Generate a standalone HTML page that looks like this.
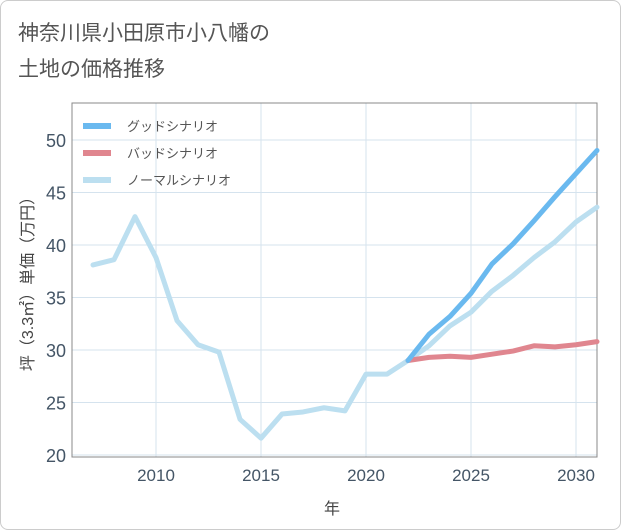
<!DOCTYPE html>
<html><head><meta charset="utf-8"><style>
body{margin:0;background:#fff;font-family:"Liberation Sans","Noto Sans CJK JP",sans-serif}
#wrap{position:relative;width:619px;height:528px;border:1px solid #ccc;border-radius:8px;overflow:hidden}
</style></head><body>
<div id="wrap">
<svg id="c" width="621" height="530" style="position:absolute;left:-1px;top:-1px">
<text x="18" y="40" font-size="21" fill="#555" font-family="Liberation Sans, Noto Sans CJK JP, sans-serif">神奈川県小田原市小八幡の</text>
<text x="18" y="76" font-size="21" fill="#555" font-family="Liberation Sans, Noto Sans CJK JP, sans-serif">土地の価格推移</text>
<g id="grid"></g>
<rect x="72" y="103" width="525" height="354" fill="none" stroke="#888" stroke-width="1"/>
<g id="series"></g>
<g id="legend"></g>
<text x="332" y="514" font-size="16" fill="#444" text-anchor="middle" font-family="Liberation Sans, Noto Sans CJK JP, sans-serif">年</text>
<text transform="translate(33,280) rotate(-90)" font-size="16" fill="#444" text-anchor="middle" font-family="Liberation Sans, Noto Sans CJK JP, sans-serif">坪（3.3㎡）単価（万円）</text>
</svg>
</div>
<script>
const years=[2007,2008,2009,2010,2011,2012,2013,2014,2015,2016,2017,2018,2019,2020,2021,2022,2023,2024,2025,2026,2027,2028,2029,2030,2031];
const normal=[38.1,38.6,42.7,38.8,32.8,30.5,29.8,23.4,21.6,23.9,24.1,24.5,24.2,27.7,27.7,29.0,30.4,32.3,33.6,35.6,37.1,38.8,40.3,42.2,43.6];
const futureYears=[2022,2023,2024,2025,2026,2027,2028,2029,2030,2031];
const good=[29.0,31.5,33.2,35.4,38.2,40.1,42.3,44.6,46.8,49.0];
const bad=[29.0,29.3,29.4,29.3,29.6,29.9,30.4,30.3,30.5,30.8];
const yTicks=[20,25,30,35,40,45,50];
const xTicks=[2010,2015,2020,2025,2030];
const names=["グッドシナリオ","バッドシナリオ","ノーマルシナリオ"];
const NS="http://www.w3.org/2000/svg";
const X=v=>156+(v-2010)*21, Y=v=>140+(50-v)*10.5;
function mk(t,a,p){const e=document.createElementNS(NS,t);for(const k in a)e.setAttribute(k,a[k]);p.appendChild(e);return e;}
const g=document.getElementById('grid');
yTicks.forEach(t=>{
 const l=mk('line',{x1:72,x2:597,y1:Y(t),y2:Y(t),stroke:'#d5e3ee','stroke-width':1},g);
 
 
 const tx=mk('text',{x:66,y:Y(t)+7,'font-size':18,fill:'#456','text-anchor':'end'},g);
 tx.textContent=t;
 
 
});
xTicks.forEach(t=>{
 const l=mk('line',{x1:X(t),x2:X(t),y1:103,y2:457,stroke:'#d5e3ee','stroke-width':1},g);
 
 
 const tx=mk('text',{x:X(t),y:481,'font-size':17,fill:'#456','text-anchor':'middle'},g);
 tx.textContent=t;
 
 
});
const s=document.getElementById('series');
function line(xs,vs,col,name){
 const p=mk('polyline',{points:xs.map((x,i)=>X(x)+','+Y(vs[i])).join(' '),fill:'none',stroke:col,'stroke-width':5,'stroke-linejoin':'round','stroke-linecap':'round'},s);
 
 
}
line(years,normal,'#bcdff0','normal-scenario-line');
line(futureYears,bad,'#e0868f','bad-scenario-line');
line(futureYears,good,'#6ab9ef','good-scenario-line');
const lg=document.getElementById('legend');
const cols=['#6ab9ef','#e0868f','#bcdff0'];
names.forEach((n,i)=>{
 const y=126+i*27;
 const gg=mk('g',{},lg);
 
 
 mk('line',{x1:83,x2:111,y1:y,y2:y,stroke:cols[i],'stroke-width':6},gg);
 const t=mk('text',{x:127,y:y+5,'font-size':13,fill:'#555'},gg);
 t.textContent=n;
});
</script>
</body></html>
